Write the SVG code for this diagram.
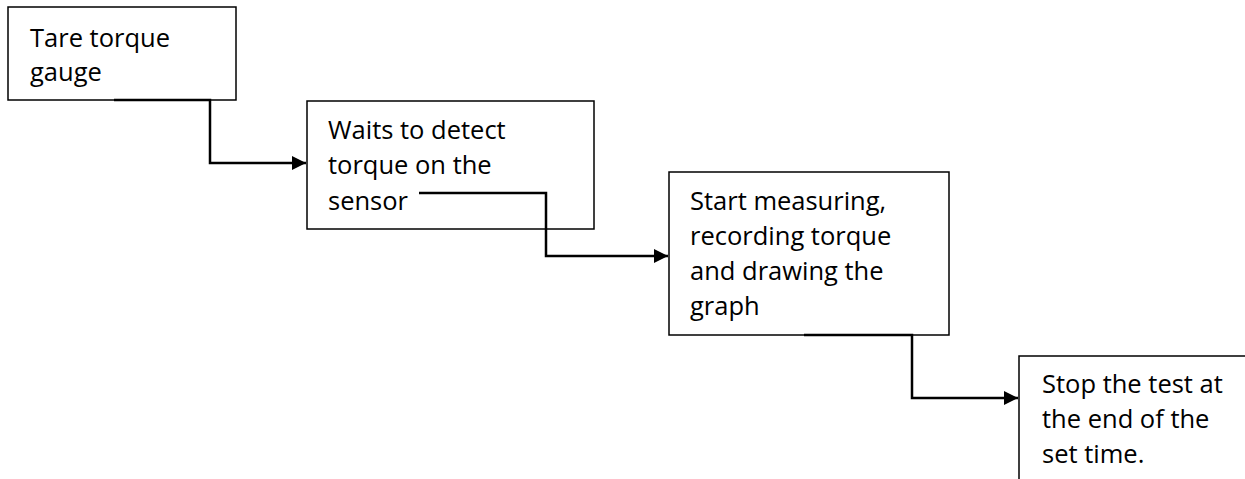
<svg xmlns="http://www.w3.org/2000/svg" width="1245" height="479" viewBox="0 0 1245 479">
<style>
.box{fill:#fff;stroke:#000;stroke-width:1.5}
.t{font-family:"Open Sans","Liberation Sans",sans-serif;font-size:25.5px;fill:#000}
.c{fill:none;stroke:#000;stroke-width:2.5}
</style>
<defs>
<marker id="ah" viewBox="0 0 10 10" refX="10" refY="5" markerWidth="15" markerHeight="14" markerUnits="userSpaceOnUse" orient="auto">
<path d="M0,0 L10,5 L0,10 z" fill="#000"/>
</marker>
</defs>
<rect width="1245" height="479" fill="#fff"/>
<g id="node1">
<rect class="box" x="8" y="7" width="228" height="93"/>
<text class="t" x="30" y="47">Tare torque</text>
<text class="t" x="30" y="81">gauge</text>
</g>
<g id="node2">
<rect class="box" x="307" y="101" width="287" height="128"/>
<text class="t" x="328" y="139">Waits to detect</text>
<text class="t" x="328" y="174">torque on the</text>
<text class="t" x="328" y="210">sensor</text>
</g>
<g id="node3">
<rect class="box" x="669" y="172" width="280" height="163"/>
<text class="t" x="690" y="210">Start measuring,</text>
<text class="t" x="690" y="245">recording torque</text>
<text class="t" x="690" y="280">and drawing the</text>
<text class="t" x="690" y="315">graph</text>
</g>
<g id="node4">
<path class="box" d="M1019,485 V356 H1250"/>
<text class="t" x="1042" y="393">Stop the test at</text>
<text class="t" x="1042" y="428">the end of the</text>
<text class="t" x="1042" y="463">set time.</text>
</g>
<g id="connectors">
<path class="c" d="M114,100 H210 V163 H306" marker-end="url(#ah)"/>
<path class="c" d="M419,193 H546 V256 H668" marker-end="url(#ah)"/>
<path class="c" d="M804,335 H912 V398 H1018" marker-end="url(#ah)"/>
</g>
</svg>
